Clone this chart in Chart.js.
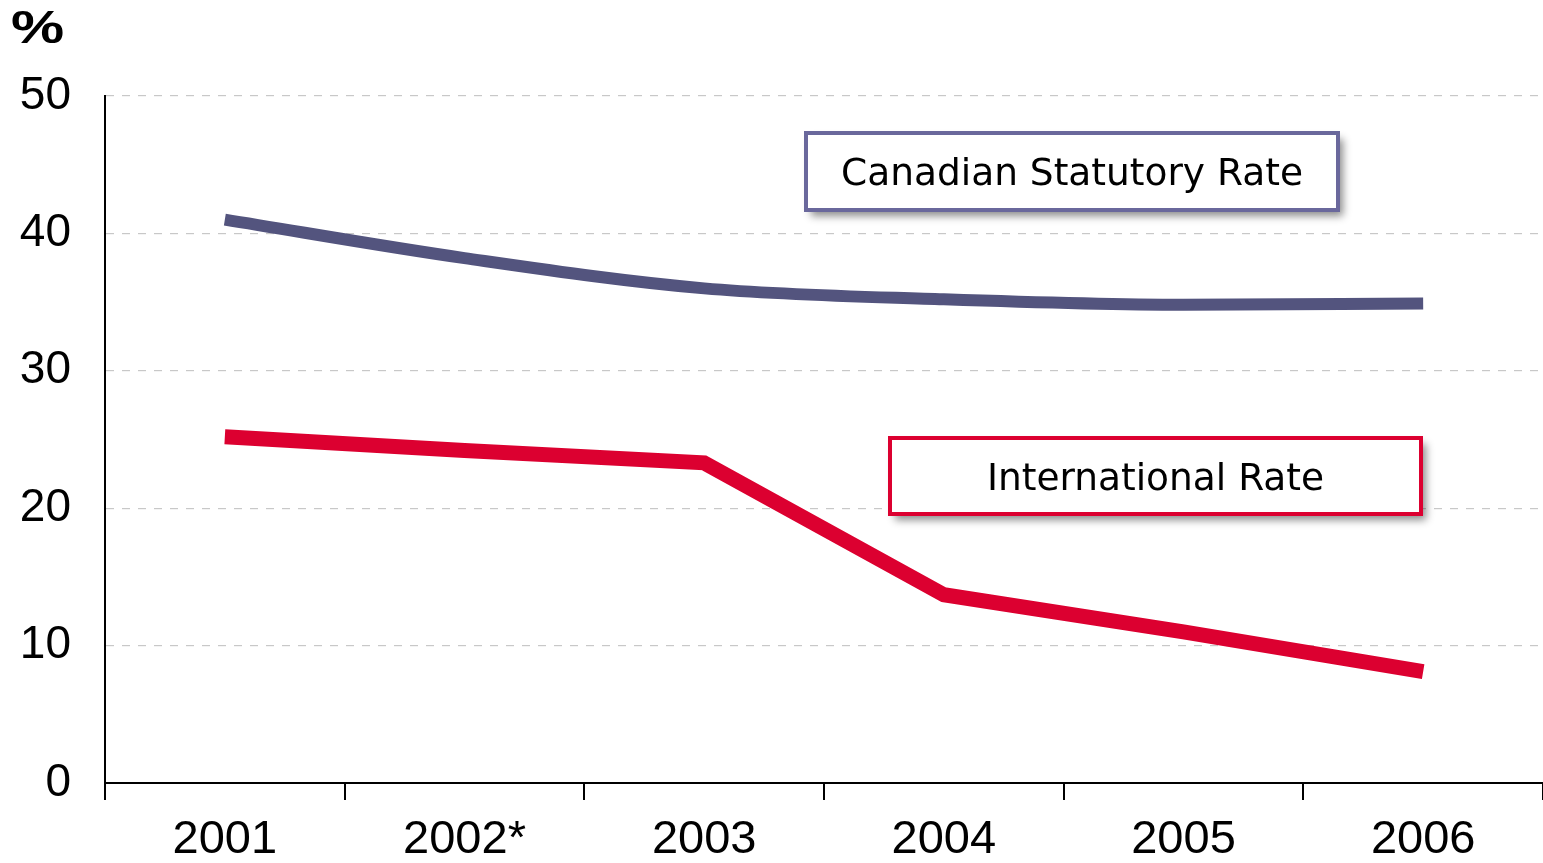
<!DOCTYPE html>
<html>
<head>
<meta charset="utf-8">
<script src="https://cdn.jsdelivr.net/npm/chart.js@4.4.1/dist/chart.umd.min.js"></script>
<style>
  html, body { margin: 0; padding: 0; background: #fff; }
  #wrap { width: 1543px; height: 863px; position: relative; }
</style>
</head>
<body>
<div id="wrap"><canvas id="rates" width="1543" height="863"></canvas></div>
<script>
// ********* chart data *********
const years = ['2001', '2002*', '2003', '2004', '2005', '2006'];
const canadianRate = [41.0, 38.2, 36.0, 35.2, 34.8, 34.9];
const internationalRate = [25.2, 24.2, 23.3, 13.7, 11.0, 8.1];
const yTicks = [0, 10, 20, 30, 40, 50];

// series labels drawn in framed boxes on the plot
const boxLabels = [
  { text: 'Canadian Statutory Rate', color: '#6a689c', x: 806, y: 133, w: 532, h: 77 },
  { text: 'International Rate', color: '#dc0030', x: 890, y: 438, w: 531, h: 76 }
];

// ********* plugins *********
const boxPlugin = {
  id: 'boxes',
  afterDatasetsDraw(chart) {
    const ctx = chart.ctx;
    boxLabels.forEach(b => {
      ctx.save();
      ctx.shadowColor = 'rgba(0,0,0,0.45)';
      ctx.shadowBlur = 8;
      ctx.shadowOffsetX = 5;
      ctx.shadowOffsetY = 6;
      ctx.fillStyle = '#fff';
      ctx.fillRect(b.x, b.y, b.w, b.h);
      ctx.restore();

      ctx.save();
      ctx.lineWidth = 4;
      ctx.strokeStyle = b.color;
      ctx.strokeRect(b.x, b.y, b.w, b.h);
      ctx.fillStyle = '#000';
      ctx.font = '37.5px "DejaVu Sans"';
      ctx.textAlign = 'center';
      ctx.textBaseline = 'middle';
      ctx.fillText(b.text, b.x + b.w / 2, b.y + b.h / 2 + 4);
      ctx.restore();
    });
  }
};

const unitPlugin = {
  id: 'unit',
  afterDraw(chart) {
    const ctx = chart.ctx;
    ctx.save();
    ctx.fillStyle = '#000';
    ctx.font = 'bold 46px "Liberation Sans"';
    ctx.textAlign = 'left';
    ctx.textBaseline = 'alphabetic';
    ctx.translate(11, 43);
    ctx.scale(1.3, 1);
    ctx.fillText('%', 0, 0);
    ctx.restore();
  }
};

// ********* chart *********
let myChart = document.getElementById('rates').getContext('2d');
let report = new Chart(myChart, {
  type: 'line',
  data: {
    labels: years,
    datasets: [{
      label: 'Canadian Statutory Rate',
      data: canadianRate,
      borderColor: '#53547e',
      borderWidth: 12,
      cubicInterpolationMode: 'monotone',
      pointRadius: 0,
      fill: false
    }, {
      label: 'International Rate',
      data: internationalRate,
      borderColor: '#dc0030',
      borderWidth: 15,
      tension: 0,
      borderJoinStyle: 'miter',
      pointRadius: 0,
      fill: false
    }]
  },
  options: {
    responsive: false,
    animation: false,
    devicePixelRatio: 1,
    layout: { padding: { top: 96, right: -8, left: 0, bottom: 0 } },
    plugins: {
      legend: { display: false },
      tooltip: { enabled: false }
    },
    scales: {
      x: {
        offset: true,
        grid: {
          offset: true,
          drawOnChartArea: false,
          color: '#000',
          lineWidth: 2,
          tickLength: 17
        },
        border: { color: '#000', width: 2 },
        ticks: {
          color: '#000',
          font: { family: 'Liberation Sans', size: 47 },
          padding: 12,
          maxRotation: 0
        },
        afterFit(scale) { scale.height = 80; }
      },
      y: {
        min: 0,
        max: 50,
        afterBuildTicks(scale) { scale.ticks = yTicks.map(v => ({ value: v })); },
        grid: {
          drawTicks: false,
          color: ctx => ctx.tick && ctx.tick.value === 0 ? 'rgba(0,0,0,0)' : '#c8c8c8',
          lineWidth: 1.2
        },
        border: { color: '#000', width: 2, dash: [8, 8] },
        ticks: {
          color: '#000',
          font: { family: 'Liberation Sans', size: 46 },
          padding: 34
        },
        afterFit(scale) { scale.width = 105; }
      }
    }
  },
  plugins: [boxPlugin, unitPlugin]
});
</script>
</body>
</html>
